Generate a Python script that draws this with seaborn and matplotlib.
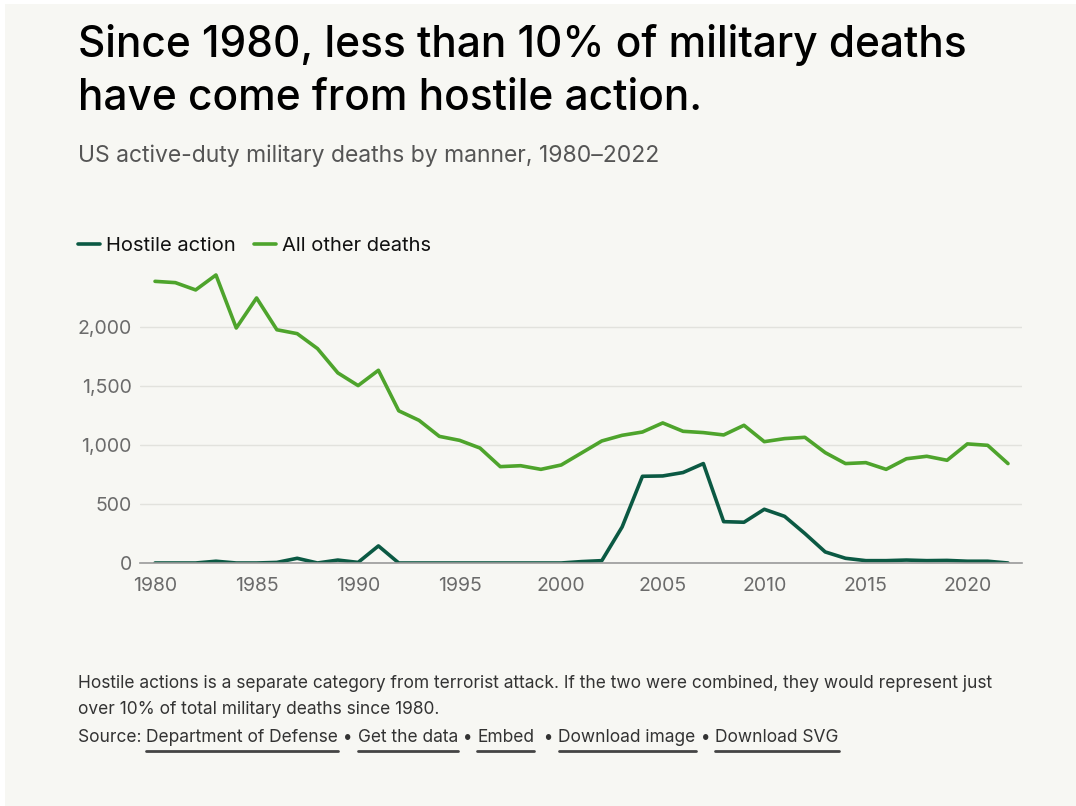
import pandas as pd
import seaborn as sns
import matplotlib.pyplot as plt
from matplotlib.lines import Line2D
from matplotlib.patches import Rectangle
from matplotlib.ticker import FuncFormatter

years = list(range(1980, 2023))
hostile = [0, 0, 0, 15, 0, 0, 5, 40, 0, 25, 5, 145, 0, 0, 0, 0, 0, 0, 0, 0,
           0, 12, 20, 306, 736, 739, 768, 844, 351, 346, 456, 396, 250, 94, 40,
           20, 20, 25, 20, 22, 15, 15, 0]
other = [2391, 2380, 2318, 2445, 1995, 2250, 1980, 1947, 1820, 1614, 1506, 1636,
         1292, 1211, 1075, 1041, 976, 818, 826, 795, 832, 934, 1036, 1084, 1112,
         1189, 1118, 1107, 1087, 1169, 1030, 1056, 1067, 937, 844, 852, 795, 885,
         906, 872, 1011, 999, 844]
series_names = ['Hostile action', 'All other deaths']
colors = {'Hostile action': '#0b5943', 'All other deaths': '#4ea42c'}

df = pd.concat([
    pd.DataFrame({'year': years, 'deaths': hostile, 'manner': series_names[0]}),
    pd.DataFrame({'year': years, 'deaths': other, 'manner': series_names[1]}),
])

sns.set_theme(style='white')
plt.rcParams['font.family'] = ['Inter', 'DejaVu Sans']
bg = '#f7f7f3'
W, H = 1076, 806

fig = plt.figure(figsize=(10.76, 8.06), dpi=100, facecolor='white')
fig.patches.append(Rectangle((5 / W, 0), 1, 1 - 4 / H, transform=fig.transFigure,
                             facecolor=bg, edgecolor='none', zorder=-10))
ax = fig.add_axes([140 / W, 1 - 563 / H, 882 / W, 294.5 / H])
ax.set_facecolor(bg)

sns.lineplot(data=df, x='year', y='deaths', hue='manner', palette=colors,
             linewidth=2.6, ax=ax, legend=False)

ax.set_xlim(1979.26, 2022.69)
ax.set_ylim(0, 2500)
ax.set_yticks([0, 500, 1000, 1500, 2000])
ax.set_xticks(range(1980, 2021, 5))
ax.yaxis.set_major_formatter(FuncFormatter(lambda v, p: f'{int(v):,}'))
ax.grid(axis='y', color='#e2e2dd', linewidth=1)
ax.set_axisbelow(True)
ax.set_xlabel('')
ax.set_ylabel('')
for s in ['top', 'right', 'left']:
    ax.spines[s].set_visible(False)
ax.spines['bottom'].set_color('#9a9a9a')
ax.spines['bottom'].set_linewidth(1.2)
ax.tick_params(axis='both', length=0, labelsize=14, labelcolor='#6b6b6b')
ax.tick_params(axis='y', pad=6)
ax.tick_params(axis='x', pad=10)

# title, two lines
fig.text(78 / W, 1 - 57 / H, 'Since 1980, less than 10% of military deaths',
         fontsize=30.5, color='black', va='baseline', ha='left', fontweight='medium')
fig.text(78 / W, 1 - 110 / H, 'have come from hostile action.',
         fontsize=30.5, color='black', va='baseline', ha='left', fontweight='medium')
fig.text(78 / W, 1 - 162 / H, 'US active-duty military deaths by manner, 1980–2022',
         fontsize=16.5, color='#555555', va='baseline', ha='left')

handles = [Line2D([], [], color=colors[n], linewidth=2.6) for n in series_names]
fig.legend(handles, series_names, loc='center left', bbox_to_anchor=(78 / W, 1 - 246 / H),
           ncol=2, frameon=False, fontsize=14.5, handlelength=1.1, handletextpad=0.3,
           columnspacing=0.9, labelcolor='#111111', borderaxespad=0, borderpad=0)

foot_color = '#333333'
fig.text(78 / W, 1 - 684 / H, 'Hostile actions is a separate category from terrorist attack. If the two were combined, they would represent just',
         fontsize=12.5, color=foot_color, va='center')
fig.text(78 / W, 1 - 710 / H, 'over 10% of total military deaths since 1980.',
         fontsize=12.5, color=foot_color, va='center')

pieces = ['Source: ', 'Department of Defense', ' • ', 'Get the data', ' • ', 'Embed', '  • ',
          'Download image', ' • ', 'Download SVG']
fig.canvas.draw()
renderer = fig.canvas.get_renderer()
x = 78
for i, p in enumerate(pieces):
    t = fig.text(x / W, 1 - 737 / H, p, fontsize=12.5, color=foot_color, va='center')
    bb = t.get_window_extent(renderer)
    if i % 2 == 1:
        fig.add_artist(Line2D([bb.x0 / W, bb.x1 / W], [1 - 751 / H] * 2,
                              transform=fig.transFigure, color='#444444', linewidth=2))
    x = bb.x1

fig.savefig('out.png', dpi=100, facecolor=fig.get_facecolor())
